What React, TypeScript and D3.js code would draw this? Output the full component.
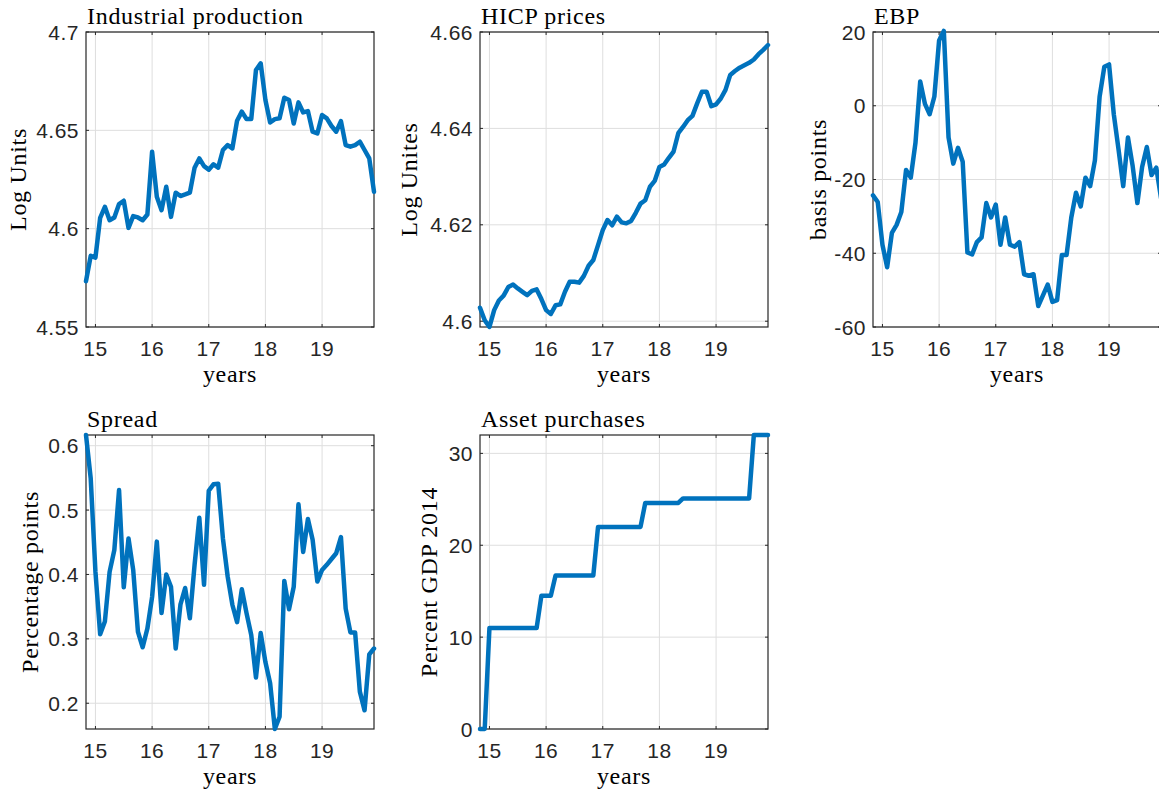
import React from 'react';
import * as d3 from 'd3';

// Monthly observations, 2014m11 .. 2019m12 (x axis in years since 2000)
const startYear = 14 + 10 / 12;

const industrialProduction = [
  4.5733, 4.5862, 4.5853, 4.6055, 4.6111, 4.6043, 4.6057, 4.6125, 4.6142, 4.6004,
  4.6064, 4.6057, 4.6043, 4.6072, 4.6391, 4.6162, 4.6094, 4.6213, 4.6060, 4.6183,
  4.6166, 4.6174, 4.6183, 4.6310, 4.6357, 4.6318, 4.6300, 4.6327, 4.6310, 4.6400,
  4.6425, 4.6408, 4.6549, 4.6595, 4.6557, 4.6557, 4.6807, 4.6841, 4.6654, 4.6540,
  4.6557, 4.6561, 4.6666, 4.6654, 4.6535, 4.6642, 4.6591, 4.6598, 4.6493, 4.6484,
  4.6578, 4.6561, 4.6522, 4.6493, 4.6547, 4.6425, 4.6417, 4.6425, 4.6442, 4.6400,
  4.6357, 4.6188,
];

const hicpPrices = [
  4.6028, 4.6002, 4.5988, 4.6023, 4.6043, 4.6053, 4.6071, 4.6076, 4.6068, 4.6061,
  4.6054, 4.6063, 4.6066, 4.6046, 4.6023, 4.6015, 4.6033, 4.6035, 4.6061, 4.6082,
  4.6082, 4.6080, 4.6094, 4.6115, 4.6127, 4.6158, 4.6189, 4.6210, 4.6199, 4.6217,
  4.6205, 4.6203, 4.6208, 4.6225, 4.6244, 4.6251, 4.6279, 4.6291, 4.6320, 4.6325,
  4.6339, 4.6352, 4.6390, 4.6403, 4.6417, 4.6426, 4.6452, 4.6476, 4.6476, 4.6446,
  4.6450, 4.6462, 4.6480, 4.6511, 4.6519, 4.6526, 4.6531, 4.6536, 4.6543, 4.6554,
  4.6563, 4.6573,
];

const ebp = [
  -24.3, -26.1, -37.7, -43.8, -34.5, -32.3, -28.8, -17.4, -19.5, -10.0,
  6.6, 0.5, -2.3, 2.5, 17.7, 20.3, -8.6, -15.7, -11.4, -15.2,
  -39.8, -40.3, -37.0, -35.7, -26.4, -30.3, -26.8, -37.7, -30.3, -37.7,
  -38.2, -37.0, -45.7, -46.1, -45.7, -54.3, -51.4, -48.5, -53.2, -52.7,
  -40.5, -40.5, -30.3, -23.6, -27.3, -19.5, -21.8, -14.8, 2.5, 10.6,
  11.2, -2.3, -11.8, -21.8, -8.6, -16.4, -26.4, -16.6, -11.2, -18.8,
  -16.8, -25.0,
];

const spread = [
  0.6166, 0.549, 0.404, 0.307, 0.327, 0.404, 0.438, 0.531, 0.380, 0.456,
  0.407, 0.311, 0.287, 0.316, 0.365, 0.451, 0.340, 0.400, 0.381, 0.285,
  0.353, 0.379, 0.332, 0.415, 0.488, 0.384, 0.530, 0.540, 0.541, 0.456,
  0.397, 0.353, 0.326, 0.377, 0.340, 0.306, 0.240, 0.309, 0.264, 0.231,
  0.160, 0.179, 0.390, 0.346, 0.381, 0.509, 0.435, 0.486, 0.454, 0.389,
  0.407, 0.415, 0.424, 0.433, 0.458, 0.347, 0.310, 0.310, 0.218, 0.189,
  0.276, 0.285,
];

const assetPurchases = [
  0, 0, 11, 11, 11, 11, 11, 11, 11, 11,
  11, 11, 11, 14.5, 14.5, 14.5, 16.7, 16.7, 16.7, 16.7,
  16.7, 16.7, 16.7, 16.7, 16.7, 22, 22, 22, 22, 22,
  22, 22, 22, 22, 22, 24.6, 24.6, 24.6, 24.6, 24.6,
  24.6, 24.6, 24.6, 25.1, 25.1, 25.1, 25.1, 25.1, 25.1, 25.1,
  25.1, 25.1, 25.1, 25.1, 25.1, 25.1, 25.1, 25.1, 32, 32,
  32, 32,
];

const xTicks = [15, 16, 17, 18, 19];
const xTickLabels = ['15', '16', '17', '18', '19'];

const ipTicks = [4.55, 4.6, 4.65, 4.7];
const ipTickLabels = ['4.55', '4.6', '4.65', '4.7'];
const hicpTicks = [4.6, 4.62, 4.64, 4.66];
const hicpTickLabels = ['4.6', '4.62', '4.64', '4.66'];
const ebpTicks = [-60, -40, -20, 0, 20];
const ebpTickLabels = ['-60', '-40', '-20', '0', '20'];
const spreadTicks = [0.2, 0.3, 0.4, 0.5, 0.6];
const spreadTickLabels = ['0.2', '0.3', '0.4', '0.5', '0.6'];
const apTicks = [0, 10, 20, 30];
const apTickLabels = ['0', '10', '20', '30'];

const titles = ['Industrial production', 'HICP prices', 'EBP', 'Spread', 'Asset purchases'];
const yLabels = ['Log Units', 'Log Unites', 'basis points', 'Percentage points', 'Percent GDP 2014'];
const xLabel = 'years';

// layout
const W = 1159;
const H = 790;
const panelBoxes = [
  { left: 86, top: 32, width: 288, height: 295, ylabOff: 60 },
  { left: 480, top: 32, width: 288, height: 295, ylabOff: 63 },
  { left: 873, top: 32, width: 288, height: 295, ylabOff: 47 },
  { left: 86, top: 435, width: 288, height: 294, ylabOff: 48 },
  { left: 480, top: 435, width: 288, height: 294, ylabOff: 43 },
];

const series = [
  { values: industrialProduction, domain: [4.55, 4.7], ticks: ipTicks, labels: ipTickLabels },
  { values: hicpPrices, domain: [4.5988, 4.66], ticks: hicpTicks, labels: hicpTickLabels },
  { values: ebp, domain: [-60, 20], ticks: ebpTicks, labels: ebpTickLabels },
  { values: spread, domain: [0.16, 0.6166], ticks: spreadTicks, labels: spreadTickLabels },
  { values: assetPurchases, domain: [0, 32], ticks: apTicks, labels: apTickLabels },
];

const SERIF = '"Liberation Serif", "Times New Roman", serif';
const SANS = '"Liberation Sans", Arial, Helvetica, sans-serif';
const AX = '#262626';
const GRID = '#dedede';
const BLUE = '#0072BD';
const TICK = 3;

function Panel({ idx }: { idx: number }) {
  const b = panelBoxes[idx];
  const s = series[idx];
  const n = s.values.length;
  const x = d3
    .scaleLinear()
    .domain([startYear, startYear + (n - 1) / 12])
    .range([b.left, b.left + b.width]);
  const y = d3.scaleLinear().domain(s.domain).range([b.top + b.height, b.top]);
  const line = d3
    .line<number>()
    .x((_, i) => x(startYear + i / 12))
    .y((d) => y(d));
  const x0 = b.left;
  const x1 = b.left + b.width;
  const y0 = b.top + b.height;
  const y1 = b.top;
  return (
    <g>
      {xTicks.map((t) => (
        <line key={'gx' + t} x1={x(t)} x2={x(t)} y1={y1} y2={y0} stroke={GRID} strokeWidth={1} />
      ))}
      {s.ticks.map((t) => (
        <line key={'gy' + t} x1={x0} x2={x1} y1={y(t)} y2={y(t)} stroke={GRID} strokeWidth={1} />
      ))}
      <rect x={x0} y={y1} width={b.width} height={b.height} fill="none" stroke={AX} strokeWidth={1.2} />
      {xTicks.map((t) => (
        <g key={'tx' + t}>
          <line x1={x(t)} x2={x(t)} y1={y0} y2={y0 - TICK} stroke={AX} strokeWidth={1} />
          <line x1={x(t)} x2={x(t)} y1={y1} y2={y1 + TICK} stroke={AX} strokeWidth={1} />
        </g>
      ))}
      {s.ticks.map((t) => (
        <g key={'ty' + t}>
          <line x1={x0} x2={x0 + TICK} y1={y(t)} y2={y(t)} stroke={AX} strokeWidth={1} />
          <line x1={x1} x2={x1 - TICK} y1={y(t)} y2={y(t)} stroke={AX} strokeWidth={1} />
        </g>
      ))}
      <path
        d={line(s.values) || ''}
        fill="none"
        stroke={BLUE}
        strokeWidth={4.5}
        strokeLinejoin="round"
        strokeLinecap="round"
      />
      {xTicks.map((t, i) => (
        <text
          key={'lx' + t}
          x={x(t)}
          y={y0 + 29}
          textAnchor="middle"
          fontFamily={SANS}
          fontSize={21}
          letterSpacing={0.5}
          fill={AX}
        >
          {xTickLabels[i]}
        </text>
      ))}
      {s.ticks.map((t, i) => (
        <text
          key={'ly' + t}
          x={x0 - 7}
          y={y(t)}
          dy="0.36em"
          textAnchor="end"
          fontFamily={SANS}
          fontSize={21}
          letterSpacing={0.5}
          fill={AX}
        >
          {s.labels[i]}
        </text>
      ))}
      <text x={x0 + 1} y={y1 - 8.5} fontFamily={SERIF} fontSize={24} letterSpacing={0.7} fill="#000">
        {titles[idx]}
      </text>
      <text
        x={(x0 + x1) / 2}
        y={y0 + 55}
        textAnchor="middle"
        fontFamily={SERIF}
        fontSize={24}
        letterSpacing={0.7}
        fill="#000"
      >
        {xLabel}
      </text>
      <text
        transform={`translate(${x0 - b.ylabOff},${(y0 + y1) / 2}) rotate(-90)`}
        textAnchor="middle"
        fontFamily={SERIF}
        fontSize={24}
        letterSpacing={0.7}
        fill="#000"
      >
        {yLabels[idx]}
      </text>
    </g>
  );
}

export default function App() {
  return (
    <svg
      width={W}
      height={H}
      viewBox={`0 0 ${W} ${H}`}
      style={{ position: 'absolute', left: 0, top: 0, background: '#fff', display: 'block' }}
    >
      <rect x={0} y={0} width={W} height={H} fill="#fff" />
      {series.map((_, i) => (
        <Panel key={i} idx={i} />
      ))}
    </svg>
  );
}
